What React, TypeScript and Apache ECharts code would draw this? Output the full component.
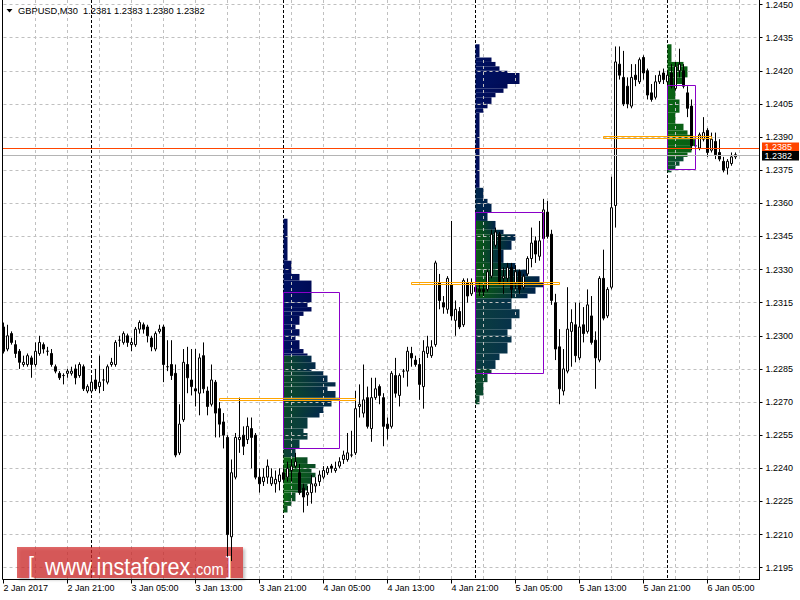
import React, { useEffect, useRef } from 'react';
import * as echarts from 'echarts';

// ---------- data ----------
const symbolName = 'GBPUSD,M30';
const headerOHLC = [1.2381, 1.2383, 1.238, 1.2382];
const tickLabels = ['2 Jan 2017', '2 Jan 21:00', '3 Jan 05:00', '3 Jan 13:00', '3 Jan 21:00', '4 Jan 05:00',
  '4 Jan 13:00', '4 Jan 21:00', '5 Jan 05:00', '5 Jan 13:00', '5 Jan 21:00', '6 Jan 05:00'];
const barsPerLabel = 16;
const barsPerGridLine = 8;
const axisSlots = 190;
const dayStarts = [22, 70, 118, 166];
const priceMin = 1.2195;
const priceMax = 1.245;
const priceStep = 0.0015;
const askPrice = [1.2385];
const bidPrice = [1.2382];

// [open, close, low, high]
const candles = [
  [1.2304, 1.2293, 1.2292, 1.2306], [1.2294, 1.23, 1.2293, 1.2305], [1.2301, 1.2297, 1.2296, 1.2302], [1.2296, 1.2292, 1.229, 1.2298],
  [1.2293, 1.2288, 1.2285, 1.2294], [1.2287, 1.2288, 1.2286, 1.2291], [1.2287, 1.2291, 1.2286, 1.2292], [1.229, 1.2287, 1.2281, 1.2291],
  [1.2287, 1.2293, 1.2286, 1.2297], [1.2292, 1.2297, 1.2291, 1.23], [1.2296, 1.2294, 1.2292, 1.2297], [1.2293, 1.2293, 1.2291, 1.2295],
  [1.2292, 1.2287, 1.2286, 1.2294], [1.2286, 1.2284, 1.2283, 1.2287], [1.2283, 1.2281, 1.228, 1.2284], [1.2282, 1.2282, 1.2278, 1.2283],
  [1.2283, 1.2284, 1.2281, 1.2285], [1.2283, 1.2284, 1.2282, 1.2286], [1.2285, 1.2281, 1.2278, 1.2287], [1.2282, 1.2287, 1.2281, 1.2288],
  [1.2286, 1.2276, 1.2275, 1.2287], [1.2275, 1.2277, 1.2274, 1.2278], [1.2275, 1.2279, 1.2274, 1.2282], [1.228, 1.2276, 1.2275, 1.2285],
  [1.2277, 1.2279, 1.2274, 1.2291], [1.228, 1.228, 1.2275, 1.2285], [1.2279, 1.2286, 1.2278, 1.2287], [1.2287, 1.2288, 1.2286, 1.229],
  [1.2287, 1.2297, 1.2286, 1.2298], [1.2298, 1.2298, 1.2295, 1.23], [1.2297, 1.2301, 1.2296, 1.2302], [1.23, 1.2297, 1.2295, 1.2301],
  [1.2296, 1.2297, 1.2293, 1.2299], [1.2296, 1.2303, 1.2295, 1.2304], [1.2303, 1.2306, 1.2301, 1.2307], [1.2305, 1.2303, 1.2301, 1.2306],
  [1.2304, 1.23, 1.2297, 1.2305], [1.2299, 1.2295, 1.2293, 1.23], [1.2294, 1.2301, 1.2293, 1.2302], [1.2302, 1.2303, 1.2301, 1.2305],
  [1.2304, 1.2287, 1.2279, 1.2305], [1.2286, 1.2286, 1.2284, 1.2298], [1.2287, 1.2282, 1.228, 1.2298], [1.2283, 1.2246, 1.2245, 1.2287],
  [1.2247, 1.226, 1.2246, 1.2269], [1.2262, 1.2288, 1.2261, 1.2294], [1.2287, 1.2281, 1.2274, 1.2295], [1.228, 1.2277, 1.2273, 1.2294],
  [1.2276, 1.2275, 1.2268, 1.2294], [1.2274, 1.229, 1.2264, 1.2292], [1.2291, 1.2276, 1.2274, 1.2297], [1.2275, 1.2268, 1.2264, 1.2277],
  [1.2269, 1.228, 1.2268, 1.2287], [1.2279, 1.2265, 1.2254, 1.228], [1.2267, 1.226, 1.2254, 1.227], [1.2261, 1.2255, 1.2249, 1.2265],
  [1.2254, 1.221, 1.22, 1.2255], [1.2209, 1.2238, 1.2198, 1.2244], [1.2236, 1.2254, 1.2235, 1.2256], [1.2253, 1.2254, 1.2247, 1.2272],
  [1.2255, 1.225, 1.2246, 1.2259], [1.2253, 1.2259, 1.2251, 1.2263], [1.2258, 1.2254, 1.224, 1.2263], [1.2255, 1.2236, 1.2235, 1.2256],
  [1.2236, 1.2233, 1.2229, 1.224], [1.2234, 1.2236, 1.2232, 1.224], [1.2236, 1.2241, 1.2233, 1.2244], [1.2233, 1.2236, 1.2232, 1.224],
  [1.2233, 1.2235, 1.2229, 1.2239], [1.2234, 1.2237, 1.223, 1.224], [1.2238, 1.2235, 1.2234, 1.224], [1.2236, 1.224, 1.2234, 1.2243],
  [1.2239, 1.2241, 1.2234, 1.2244], [1.2241, 1.2243, 1.224, 1.2247], [1.2238, 1.2229, 1.2228, 1.2242], [1.2231, 1.2227, 1.222, 1.2233],
  [1.2228, 1.2229, 1.2223, 1.2232], [1.2229, 1.2233, 1.2224, 1.2237], [1.2232, 1.2233, 1.2229, 1.2236], [1.2234, 1.2237, 1.2232, 1.2239],
  [1.2236, 1.2239, 1.2235, 1.2241], [1.2238, 1.224, 1.2237, 1.2241], [1.2241, 1.224, 1.2238, 1.2242], [1.2239, 1.224, 1.2238, 1.2243],
  [1.2241, 1.2243, 1.224, 1.2245], [1.2244, 1.2246, 1.2242, 1.2248], [1.2244, 1.2247, 1.2243, 1.2256], [1.2246, 1.2246, 1.2245, 1.2257],
  [1.2247, 1.2267, 1.2246, 1.2275], [1.2268, 1.2269, 1.2263, 1.2278], [1.2265, 1.2271, 1.2263, 1.2287], [1.2272, 1.2259, 1.2258, 1.2277],
  [1.2258, 1.2272, 1.2252, 1.2281], [1.2272, 1.2276, 1.2271, 1.2281], [1.2277, 1.2273, 1.2269, 1.2278], [1.2272, 1.2259, 1.225, 1.2274],
  [1.226, 1.2258, 1.2253, 1.2263], [1.2259, 1.2283, 1.2258, 1.2284], [1.2282, 1.2274, 1.2272, 1.229], [1.2273, 1.2282, 1.2268, 1.2283],
  [1.2284, 1.2284, 1.2281, 1.2285], [1.2284, 1.2293, 1.2277, 1.2295], [1.2292, 1.229, 1.2286, 1.2295], [1.2289, 1.2287, 1.2286, 1.2291],
  [1.2287, 1.2278, 1.2271, 1.229], [1.2277, 1.2293, 1.2267, 1.2298], [1.2292, 1.2295, 1.229, 1.23], [1.2291, 1.2295, 1.229, 1.2298],
  [1.2296, 1.2333, 1.2295, 1.2334], [1.2324, 1.2316, 1.2312, 1.2328], [1.2315, 1.2313, 1.231, 1.2318], [1.2312, 1.2326, 1.231, 1.2327],
  [1.2323, 1.2309, 1.2307, 1.2352], [1.2307, 1.2312, 1.23, 1.2316], [1.2311, 1.2304, 1.2303, 1.2313], [1.2305, 1.2325, 1.2304, 1.2326],
  [1.2324, 1.2318, 1.2315, 1.2326], [1.2319, 1.2324, 1.2318, 1.2326], [1.2322, 1.232, 1.2318, 1.2324], [1.2321, 1.232, 1.2318, 1.2324],
  [1.2321, 1.232, 1.2318, 1.2323], [1.2321, 1.2329, 1.232, 1.233], [1.2327, 1.2346, 1.2326, 1.2348], [1.2341, 1.2347, 1.234, 1.2349],
  [1.2346, 1.2324, 1.2323, 1.2347], [1.2326, 1.2327, 1.2319, 1.2331], [1.2326, 1.2331, 1.2324, 1.2333], [1.2331, 1.2321, 1.2317, 1.2333],
  [1.2324, 1.2329, 1.2321, 1.2332], [1.2329, 1.2321, 1.2319, 1.233], [1.2322, 1.2327, 1.2321, 1.2328], [1.2328, 1.2335, 1.2327, 1.2336],
  [1.2335, 1.2342, 1.2331, 1.2349], [1.2343, 1.2337, 1.2333, 1.2345], [1.2336, 1.2343, 1.2334, 1.2352], [1.2344, 1.2357, 1.2343, 1.2362],
  [1.2356, 1.2345, 1.2344, 1.2361], [1.2346, 1.2316, 1.2314, 1.2348], [1.2315, 1.2294, 1.2289, 1.2319], [1.2295, 1.2276, 1.2269, 1.2303],
  [1.2275, 1.2285, 1.2273, 1.2294], [1.2284, 1.2303, 1.2283, 1.2322], [1.2302, 1.2306, 1.2286, 1.2312], [1.2305, 1.2291, 1.2288, 1.2315],
  [1.229, 1.2304, 1.2289, 1.2315], [1.2305, 1.2301, 1.2297, 1.2313], [1.2302, 1.2314, 1.2301, 1.2321], [1.2309, 1.2297, 1.2296, 1.2318],
  [1.2298, 1.229, 1.2276, 1.2302], [1.2289, 1.2326, 1.2288, 1.2327], [1.2326, 1.2308, 1.2307, 1.2339], [1.2309, 1.2321, 1.2308, 1.2322],
  [1.2322, 1.2358, 1.2321, 1.2372], [1.2359, 1.2424, 1.2349, 1.2431], [1.2423, 1.2418, 1.2416, 1.2431], [1.2417, 1.2405, 1.2404, 1.2429],
  [1.2413, 1.2405, 1.2403, 1.2417], [1.2404, 1.2417, 1.2403, 1.2423], [1.2418, 1.2416, 1.2413, 1.2423], [1.2415, 1.2425, 1.2414, 1.2426],
  [1.2426, 1.2419, 1.2416, 1.2427], [1.242, 1.2409, 1.2407, 1.2421], [1.241, 1.2407, 1.2406, 1.2414], [1.2408, 1.2415, 1.2407, 1.2418],
  [1.2415, 1.2418, 1.2414, 1.242], [1.2419, 1.2416, 1.2414, 1.2421], [1.2415, 1.2418, 1.2413, 1.242], [1.2419, 1.2413, 1.2412, 1.2423],
  [1.2412, 1.2422, 1.2411, 1.2424], [1.242, 1.2423, 1.2417, 1.243], [1.242, 1.2413, 1.2412, 1.2423], [1.241, 1.2403, 1.2399, 1.2413],
  [1.2404, 1.2386, 1.2384, 1.2407], [1.2386, 1.2386, 1.2384, 1.2389], [1.2385, 1.2391, 1.2384, 1.2392], [1.2389, 1.2392, 1.2388, 1.2399],
  [1.2393, 1.2383, 1.2381, 1.2394], [1.2384, 1.2389, 1.2383, 1.2392], [1.2388, 1.2382, 1.238, 1.2392], [1.2383, 1.238, 1.2379, 1.2389],
  [1.2379, 1.2375, 1.2374, 1.2381], [1.2376, 1.2379, 1.2373, 1.238], [1.2378, 1.2381, 1.2377, 1.2383], [1.2381, 1.2382, 1.238, 1.2383],
];

// market profiles: [top price, bottom price, TPO count]
const profileStarts = [70, 118, 166];
const profile1 = [
  [1.2353, 1.2334, 1], [1.2334, 1.2328, 2], [1.2328, 1.2325, 4], [1.2325, 1.2315, 7], [1.2315, 1.2313, 6],
  [1.2313, 1.2311, 7], [1.2311, 1.2309, 5], [1.2309, 1.2305, 4], [1.2305, 1.2303, 3], [1.2303, 1.23, 4],
  [1.23, 1.2298, 3], [1.2298, 1.2294, 4], [1.2294, 1.2292, 5], [1.2292, 1.2291, 6], [1.2291, 1.2288, 7],
  [1.2288, 1.2285, 8], [1.2285, 1.2284, 7], [1.2284, 1.2282, 10], [1.2282, 1.2279, 11], [1.2279, 1.2277, 13],
  [1.2277, 1.2275, 11], [1.2275, 1.2272, 13], [1.2272, 1.2271, 14], [1.2271, 1.2268, 12], [1.2268, 1.2265, 10],
  [1.2265, 1.2263, 9], [1.2263, 1.2258, 6], [1.2258, 1.2256, 5], [1.2256, 1.2253, 6], [1.2253, 1.2249, 4],
  [1.2249, 1.2245, 3], [1.2245, 1.2242, 6], [1.2242, 1.224, 8], [1.224, 1.2238, 7], [1.2238, 1.2236, 8],
  [1.2236, 1.2233, 7], [1.2233, 1.223, 6], [1.223, 1.2229, 5], [1.2229, 1.2225, 3], [1.2225, 1.2223, 2],
  [1.2223, 1.222, 1],
];
const profile2 = [
  [1.2432, 1.2426, 1], [1.2426, 1.2424, 4], [1.2424, 1.2422, 5], [1.2422, 1.242, 6], [1.242, 1.2419, 8],
  [1.2419, 1.2414, 11], [1.2414, 1.2412, 8], [1.2412, 1.241, 7], [1.241, 1.2408, 5], [1.2408, 1.2405, 4],
  [1.2405, 1.2403, 3], [1.2403, 1.2401, 2], [1.2401, 1.2367, 1], [1.2367, 1.2362, 2], [1.2362, 1.236, 3],
  [1.236, 1.2356, 4], [1.2356, 1.2352, 3], [1.2352, 1.2348, 5], [1.2348, 1.2346, 7], [1.2346, 1.2343, 10],
  [1.2343, 1.2339, 9], [1.2339, 1.2333, 7], [1.2333, 1.233, 10], [1.233, 1.2327, 13], [1.2327, 1.2324, 16],
  [1.2324, 1.2322, 17], [1.2322, 1.2319, 15], [1.2319, 1.2317, 13], [1.2317, 1.2312, 9], [1.2312, 1.2308, 11],
  [1.2308, 1.2303, 9], [1.2303, 1.23, 8], [1.23, 1.2297, 9], [1.2297, 1.2292, 8], [1.2292, 1.2289, 6],
  [1.2289, 1.2285, 5], [1.2285, 1.2283, 4], [1.2283, 1.2279, 3], [1.2279, 1.2273, 2], [1.2273, 1.2269, 1],
];
const profile3 = [
  [1.2432, 1.2424, 1], [1.2424, 1.2422, 4], [1.2422, 1.2417, 5], [1.2417, 1.2414, 4], [1.2414, 1.2407, 2],
  [1.2407, 1.2401, 3], [1.2401, 1.2396, 2], [1.2396, 1.2393, 4], [1.2393, 1.2391, 5], [1.2391, 1.2389, 6],
  [1.2389, 1.2386, 7], [1.2386, 1.2383, 6], [1.2383, 1.2381, 5], [1.2381, 1.2379, 4], [1.2379, 1.2377, 3],
  [1.2377, 1.2375, 2], [1.2375, 1.2374, 1],
];
// value areas: [start bar, end bar, high, low]
const valueAreas = [[70, 84, 1.232, 1.2249], [118, 135, 1.2356, 1.2283], [166, 173, 1.24135, 1.23755]];
// points of control: [start bar, end bar, price]
const pocLevels = [[54, 88, 1.22716], [102, 139, 1.23237], [150, 177, 1.23898]];

// ---------- styles ----------
const FONT = "'Liberation Sans', Arial, sans-serif";
const GRID_COLOR = '#c0c0c0';
const FRAME_LEFT = 2.5;
const FRAME_RIGHT = 759.5;
const FRAME_TOP = 0;
const FRAME_BOTTOM = 579.5;

function profileColors(p: number, price: number): [string, string] {
  if (p === 0) {
    if (price >= 1.229) return ['#001262', '#000b56'];
    if (price >= 1.2262) return ['#0c4a2a', '#03294a'];
    if (price >= 1.2245) return ['#0b4630', '#093a40'];
    return ['#0a6c12', '#0a4a26'];
  }
  if (p === 1) {
    if (price >= 1.2367) return ['#001262', '#000b56'];
    if (price >= 1.2352) return ['#00284c', '#00234c'];
    if (price >= 1.2317) return ['#0a5c12', '#00224a'];
    if (price >= 1.2285) return ['#0a3e3e', '#07324a'];
    return ['#0b4e2a', '#0a4630'];
  }
  if (price >= 1.2381) return ['#08680f', '#0a5e16'];
  return ['#0a5826', '#0a4a34'];
}

function priceLineSeries(name: string, values: number[], lineColor: string, boxColor: string, boxShift: number) {
  return {
    type: 'custom',
    name,
    z: 4,
    silent: true,
    encode: { y: 0 },
    data: values.map((v) => [v]),
    renderItem: (_params: any, api: any) => {
      const price = api.value(0);
      const y = Math.round(api.coord([0, price])[1]) + 0.5;
      return {
        type: 'group',
        children: [
          { type: 'line', shape: { x1: FRAME_LEFT, y1: y, x2: FRAME_RIGHT, y2: y }, style: { stroke: lineColor, lineWidth: 1 } },
          { type: 'rect', shape: { x: 762, y: y - 5 + boxShift, width: 37, height: 9.5 }, style: { fill: boxColor } },
          {
            type: 'text',
            style: {
              text: price.toFixed(4), x: 764.5, y: y + boxShift - 0.2, fill: '#ffffff',
              fontSize: 9, fontFamily: FONT, verticalAlign: 'middle', align: 'left',
            },
          },
        ],
      };
    },
  };
}

function buildOption() {
  const categories = Array.from({ length: axisSlots }, (_, i) => String(i));
  const profiles = [profile1, profile2, profile3];
  const profileData: number[][] = [];
  profiles.forEach((rows, p) => rows.forEach((r) => profileData.push([profileStarts[p], r[0], r[1], r[2], p])));
  const gridLineBars = categories.map((_, i) => i).filter((i) => i > 0 && i % barsPerGridLine === 0 && i < candles.length + 2);

  const option: any = {
    animation: false,
    backgroundColor: '#ffffff',
    textStyle: { fontFamily: FONT },
    grid: { left: 3.5, right: 40.5, top: 4.3, bottom: 32.3, containLabel: false },
    xAxis: {
      type: 'category',
      data: categories,
      boundaryGap: false,
      offset: 11.8,
      axisLine: { show: false },
      axisTick: { show: true, interval: barsPerLabel - 1, length: 4, lineStyle: { color: '#000' } },
      axisLabel: {
        interval: barsPerLabel - 1,
        align: 'left',
        margin: 4,
        fontSize: 9,
        fontFamily: FONT,
        color: '#000',
        formatter: (_v: string, idx: number) => (idx % barsPerLabel === 0 ? tickLabels[idx / barsPerLabel] || '' : ''),
      },
      splitLine: { show: false },
    },
    yAxis: {
      type: 'value',
      position: 'right',
      min: priceMin,
      max: priceMax,
      interval: priceStep,
      z: 2,
      axisLine: { show: true, lineStyle: { color: '#000' } },
      axisTick: { show: true, length: 3, lineStyle: { color: '#000' } },
      axisLabel: { margin: 6, fontSize: 9, fontFamily: FONT, color: '#000', formatter: (v: number) => v.toFixed(4) },
      splitLine: { show: true, lineStyle: { color: GRID_COLOR, type: [3, 3], width: 1 } },
    },
    series: [
      {
        type: 'custom',
        name: 'day-separators',
        z: 1,
        silent: true,
        encode: { x: 0 },
        data: dayStarts.map((i) => [i]),
        renderItem: (_params: any, api: any) => {
          const x = api.coord([api.value(0), priceMin])[0];
          return {
            type: 'line',
            shape: { x1: x, y1: FRAME_TOP, x2: x, y2: FRAME_BOTTOM },
            style: { stroke: '#000', lineWidth: 1, lineDash: [3, 2] },
          };
        },
      },
      {
        type: 'custom',
        name: 'profiles',
        z: 1,
        silent: true,
        encode: { x: 0, y: [1, 2] },
        data: profileData,
        renderItem: (_params: any, api: any) => {
          const s = api.value(0), top = api.value(1), bot = api.value(2), n = api.value(3), p = api.value(4);
          const a = api.coord([s, top]);
          const b = api.coord([s + n, bot]);
          const [cl, cr] = profileColors(p, (top + bot) / 2);
          return {
            type: 'rect',
            shape: { x: a[0], y: a[1], width: b[0] - a[0], height: b[1] - a[1] },
            style: {
              fill: { type: 'linear', x: 0, y: 0, x2: 1, y2: 0, colorStops: [{ offset: 0, color: cl }, { offset: 1, color: cr }] },
              stroke: null,
            },
          };
        },
      },
      {
        type: 'custom',
        name: 'grid-verticals',
        z: 2,
        silent: true,
        encode: { x: 0 },
        data: gridLineBars.map((i) => [i]),
        renderItem: (_params: any, api: any) => {
          const x = api.coord([api.value(0), priceMin])[0];
          return {
            type: 'line',
            shape: { x1: x, y1: FRAME_TOP, x2: x, y2: FRAME_BOTTOM },
            style: { stroke: GRID_COLOR, lineWidth: 1, lineDash: [3, 3] },
          };
        },
      },
      {
        type: 'candlestick',
        name: 'GBPUSD',
        z: 3,
        barWidth: 3,
        data: candles,
        itemStyle: { color: '#ffffff', color0: '#000000', borderColor: '#000000', borderColor0: '#000000', borderWidth: 1 },
      },
      {
        type: 'custom',
        name: 'value-areas',
        z: 4,
        silent: true,
        encode: { x: [0, 1], y: [2, 3] },
        data: valueAreas,
        renderItem: (_params: any, api: any) => {
          const a = api.coord([api.value(0), api.value(2)]);
          const b = api.coord([api.value(1), api.value(3)]);
          const y0 = Math.round(a[1]) + 0.5, y1 = Math.round(b[1]) + 0.5;
          return {
            type: 'rect',
            shape: { x: a[0], y: y0, width: b[0] - a[0], height: y1 - y0 },
            style: { fill: null, stroke: '#8a00c8', lineWidth: 1 },
          };
        },
      },
      {
        type: 'custom',
        name: 'poc',
        z: 4,
        silent: true,
        encode: { x: [0, 1], y: 2 },
        data: pocLevels,
        renderItem: (_params: any, api: any) => {
          const a = api.coord([api.value(0), api.value(2)]);
          const b = api.coord([api.value(1), api.value(2)]);
          const y = Math.round(a[1]) - 0.5;
          return {
            type: 'rect',
            shape: { x: a[0], y, width: b[0] - a[0], height: 2 },
            style: { fill: null, stroke: '#ffa500', lineWidth: 1 },
          };
        },
      },
      priceLineSeries('ask', askPrice, '#ff4500', '#ff4500', -1),
      priceLineSeries('bid', bidPrice, '#b4b4b4', '#000000', 0.5),
    ],
    graphic: [
      { type: 'line', z: 5, silent: true, shape: { x1: FRAME_LEFT, y1: 0, x2: FRAME_LEFT, y2: FRAME_BOTTOM }, style: { stroke: '#000', lineWidth: 1 } },
      { type: 'line', z: 5, silent: true, shape: { x1: FRAME_LEFT, y1: FRAME_BOTTOM, x2: 760, y2: FRAME_BOTTOM }, style: { stroke: '#000', lineWidth: 1 } },
      { type: 'line', z: 5, silent: true, shape: { x1: FRAME_RIGHT, y1: 0, x2: FRAME_RIGHT, y2: FRAME_BOTTOM }, style: { stroke: '#000', lineWidth: 1 } },
      { type: 'polygon', z: 5, silent: true, shape: { points: [[6.5, 9], [12.5, 9], [9.5, 12.5]] }, style: { fill: '#000' } },
      {
        type: 'text', z: 5, silent: true, x: 18, y: 11,
        style: {
          text: `${symbolName}  ${headerOHLC.map((v) => v.toFixed(4)).join(' ')}`,
          fill: '#000', fontSize: 9.3, fontFamily: FONT, verticalAlign: 'middle', align: 'left',
        },
      },
      {
        type: 'group', z: 2.5, silent: true,
        children: [
          {
            type: 'rect', z: 2.5, shape: { x: 17, y: 547, width: 226, height: 31 },
            style: { fill: 'rgba(210, 40, 40, 0.7)', shadowBlur: 3, shadowColor: 'rgba(0,0,0,0.35)', shadowOffsetX: 2, shadowOffsetY: 2 },
          },
          { type: 'text', z: 2.5, x: 28, y: 566, scaleX: 0.9, style: { text: '[', fill: '#fff', fontSize: 24, fontFamily: FONT, verticalAlign: 'middle' } },
          { type: 'text', z: 2.5, x: 45, y: 566.6, scaleX: 0.9, style: { text: 'www.instaforex', fill: '#fff', fontSize: 24, fontFamily: FONT, verticalAlign: 'middle' } },
          { type: 'text', z: 2.5, x: 192, y: 569, scaleX: 0.86, style: { text: '.com', fill: '#fff', fontSize: 17, fontFamily: FONT, verticalAlign: 'middle' } },
          { type: 'text', z: 2.5, x: 226, y: 566, scaleX: 0.9, style: { text: ']', fill: '#fff', fontSize: 24, fontFamily: FONT, verticalAlign: 'middle' } },
        ],
      },
    ],
  };
  return option;
}

export default function App() {
  const ref = useRef<HTMLDivElement>(null);
  useEffect(() => {
    if (!ref.current) return;
    const chart = echarts.init(ref.current, undefined, { renderer: 'svg' });
    chart.setOption(buildOption());
    return () => chart.dispose();
  }, []);
  return <div ref={ref} style={{ position: 'fixed', left: 0, top: 0, width: 800, height: 600, background: '#fff' }} />;
}
